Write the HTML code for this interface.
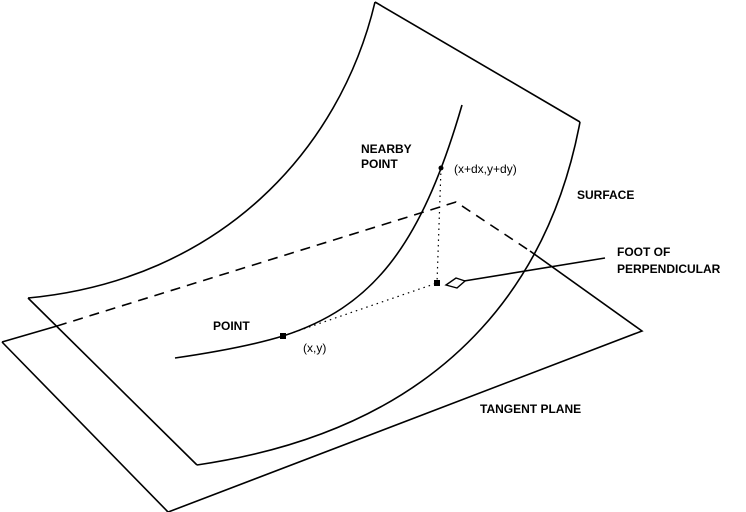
<!DOCTYPE html>
<html><head><style>
html,body{margin:0;padding:0;background:#fff;width:746px;height:512px;overflow:hidden}
text{font-family:"Liberation Sans",sans-serif;font-size:12px;fill:#000}
.b{font-weight:bold}
</style></head><body>
<svg width="746" height="512" viewBox="0 0 746 512" xmlns="http://www.w3.org/2000/svg">
<g fill="none" stroke="#000" stroke-width="1.6">
<!-- surface -->
<path d="M375,2 L580,122"/>
<path d="M375,2 C340,150 220,280 28,298"/>
<path d="M28,298 L197,465"/>
<path d="M580,122 C555,255 470,425 197,465"/>
<!-- tangent plane -->
<path d="M2,342 L57,326"/>
<path d="M57,326 L456,202 L530,251" stroke-dasharray="10,7"/>
<path d="M530,251 L642,331 L163,514"/>
<path d="M2,342 L170,514"/>
<!-- curve -->
<path d="M175,358 C230,350 260,343 283,336 C370,308 420,250 462,105"/>
<!-- dotted -->
<path d="M441,168 L437,283 M283,336 L437,283" stroke-width="1.2" stroke-dasharray="1.5,4"/>
<!-- arrow -->
<path d="M605,258 L464,281"/>
<path d="M446,285 L456,278 L465,281 L457,288 Z" stroke-width="1.4"/>
</g>
<circle cx="441" cy="168" r="2.5"/>
<rect x="434" y="280" width="6" height="6"/>
<rect x="280" y="333" width="6" height="6"/>
<text class="b" x="361" y="153">NEARBY</text>
<text class="b" x="361" y="168">POINT</text>
<text x="454" y="173">(x+dx,y+dy)</text>
<text class="b" x="577" y="199">SURFACE</text>
<text class="b" x="617" y="256">FOOT OF</text>
<text class="b" x="617" y="273">PERPENDICULAR</text>
<text class="b" x="213" y="330">POINT</text>
<text x="303" y="352">(x,y)</text>
<text class="b" x="480" y="413">TANGENT PLANE</text>
</svg>
</body></html>
